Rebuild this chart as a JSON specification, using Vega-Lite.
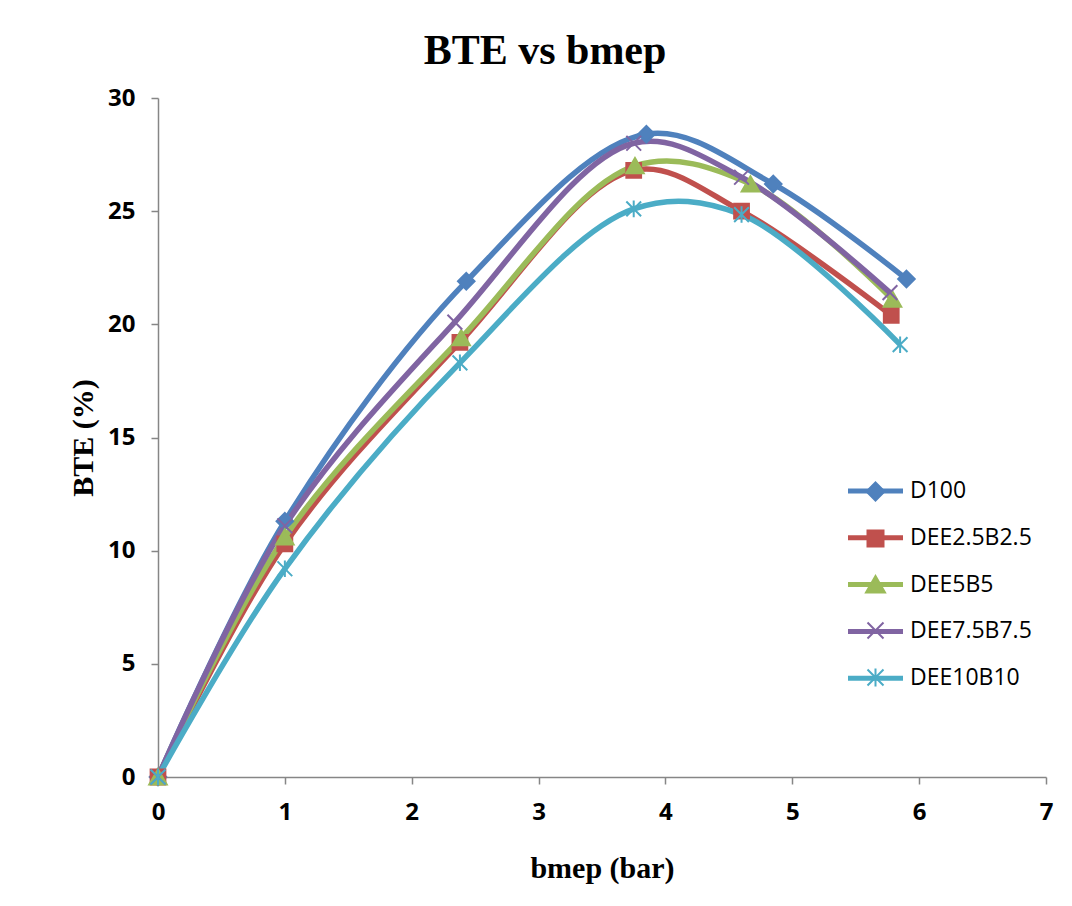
{
  "$schema": "https://vega.github.io/schema/vega-lite/v6.json",
  "autosize": "none",
  "width": 888,
  "height": 679,
  "padding": {"left": 158, "top": 98, "right": 26, "bottom": 129},
  "background": "white",
  "title": {
    "text": "BTE vs bmep",
    "font": "Liberation Serif",
    "fontSize": 42,
    "fontWeight": "bold",
    "color": "black",
    "anchor": "middle",
    "dx": -57,
    "offset": 13
  },
  "config": {
    "view": {"stroke": null},
    "axis": {
      "grid": false,
      "domainColor": "#868686",
      "domainWidth": 1.5,
      "tickColor": "#868686",
      "tickWidth": 1.5,
      "tickSize": 7,
      "labelFlush": false,
      "labelFont": "Open Sans",
      "labelFontWeight": "bold",
      "labelFontSize": 24,
      "labelColor": "black",
      "titleFont": "Liberation Serif",
      "titleFontWeight": "bold",
      "titleFontSize": 30,
      "titleColor": "black"
    }
  },
  "data": {
    "values": [
      {"series": "D100", "bmep": 0, "bte": 0},
      {"series": "D100", "bmep": 1.0, "bte": 11.3},
      {"series": "D100", "bmep": 2.43, "bte": 21.9},
      {"series": "D100", "bmep": 3.85, "bte": 28.4},
      {"series": "D100", "bmep": 4.85, "bte": 26.2},
      {"series": "D100", "bmep": 5.9, "bte": 22.0},
      {"series": "DEE2.5B2.5", "bmep": 0, "bte": 0},
      {"series": "DEE2.5B2.5", "bmep": 1.0, "bte": 10.3},
      {"series": "DEE2.5B2.5", "bmep": 2.38, "bte": 19.2},
      {"series": "DEE2.5B2.5", "bmep": 3.75, "bte": 26.8},
      {"series": "DEE2.5B2.5", "bmep": 4.6, "bte": 25.0},
      {"series": "DEE2.5B2.5", "bmep": 5.78, "bte": 20.4},
      {"series": "DEE5B5", "bmep": 0, "bte": 0},
      {"series": "DEE5B5", "bmep": 1.0, "bte": 10.6},
      {"series": "DEE5B5", "bmep": 2.39, "bte": 19.4},
      {"series": "DEE5B5", "bmep": 3.76, "bte": 27.0},
      {"series": "DEE5B5", "bmep": 4.67, "bte": 26.2},
      {"series": "DEE5B5", "bmep": 5.79, "bte": 21.1},
      {"series": "DEE7.5B7.5", "bmep": 0, "bte": 0},
      {"series": "DEE7.5B7.5", "bmep": 1.0, "bte": 11.1},
      {"series": "DEE7.5B7.5", "bmep": 2.34, "bte": 20.1},
      {"series": "DEE7.5B7.5", "bmep": 3.75, "bte": 28.0},
      {"series": "DEE7.5B7.5", "bmep": 4.6, "bte": 26.5},
      {"series": "DEE7.5B7.5", "bmep": 5.77, "bte": 21.4},
      {"series": "DEE10B10", "bmep": 0, "bte": 0},
      {"series": "DEE10B10", "bmep": 1.0, "bte": 9.2},
      {"series": "DEE10B10", "bmep": 2.38, "bte": 18.3},
      {"series": "DEE10B10", "bmep": 3.75, "bte": 25.1},
      {"series": "DEE10B10", "bmep": 4.6, "bte": 24.85},
      {"series": "DEE10B10", "bmep": 5.85, "bte": 19.1}
    ]
  },
  "encoding": {
    "x": {
      "field": "bmep",
      "type": "quantitative",
      "scale": {"domain": [0, 7], "nice": false, "zero": true},
      "axis": {
        "title": "bmep (bar)",
        "values": [0, 1, 2, 3, 4, 5, 6, 7],
        "format": "d",
        "labelPadding": 16,
        "titleBaseline": "middle",
        "titleY": 91
      }
    },
    "y": {
      "field": "bte",
      "type": "quantitative",
      "scale": {"domain": [0, 30], "nice": false},
      "axis": {
        "title": "BTE (%)",
        "values": [0, 5, 10, 15, 20, 25, 30],
        "format": "d",
        "labelPadding": 16,
        "titleBaseline": "middle",
        "titleX": -75,
        "titleY": 339.5,
        "titleAngle": -90
      }
    }
  },
  "layer": [
    {
      "mark": {"type": "line", "interpolate": "catmull-rom", "strokeWidth": 5.5},
      "encoding": {
        "color": {
          "field": "series",
          "type": "nominal",
          "scale": {
            "domain": ["D100", "DEE2.5B2.5", "DEE5B5", "DEE7.5B7.5", "DEE10B10"],
            "range": ["#4F81BD", "#C0504D", "#9BBB59", "#8064A2", "#4BACC6"]
          },
          "legend": {
            "title": null,
            "orient": "none",
            "legendX": 690,
            "legendY": 363,
            "padding": 0,
            "symbolType": "stroke",
            "symbolSize": 3025,
            "symbolStrokeWidth": 5,
            "symbolOffset": -2.5,
            "labelOffset": 4.5,
            "rowPadding": 4.8,
            "labelFont": "Open Sans",
            "labelFontSize": 23,
            "labelColor": "black",
            "labelLimit": 300,
            "zindex": 0
          }
        },
        "detail": {"field": "series"}
      }
    },
    {
      "mark": {"type": "point", "filled": true, "size": 340, "strokeWidth": 2, "opacity": 1},
      "encoding": {
        "fill": {
          "field": "series",
          "type": "nominal",
          "sort": null,
          "scale": {"range": ["#4F81BD", "#C0504D", "#9BBB59", "#8064A2", "#4BACC6"]},
          "legend": {
            "title": null,
            "orient": "none",
            "legendX": 690,
            "legendY": 382,
            "padding": 0,
            "symbolSize": 400,
            "symbolStrokeWidth": 2,
            "symbolOffset": 16,
            "rowPadding": 21,
            "labelFont": "Open Sans",
            "labelFontSize": 23,
            "labelExpr": "''",
            "labelLimit": 300,
            "zindex": 1
          }
        },
        "stroke": {
          "field": "series",
          "type": "nominal",
          "sort": null,
          "scale": {"range": ["#4F81BD", "#C0504D", "#9BBB59", "#8064A2", "#4BACC6"]},
          "legend": {
            "title": null,
            "orient": "none",
            "legendX": 690,
            "legendY": 382,
            "padding": 0,
            "symbolSize": 400,
            "symbolStrokeWidth": 2,
            "symbolOffset": 16,
            "rowPadding": 21,
            "labelFont": "Open Sans",
            "labelFontSize": 23,
            "labelExpr": "''",
            "labelLimit": 300,
            "zindex": 1
          }
        },
        "shape": {
          "field": "series",
          "type": "nominal",
          "sort": null,
          "scale": {
            "range": [
              "M0,-0.9L0.9,0L0,0.9L-0.9,0Z",
              "M-0.8,-0.8H0.8V0.8H-0.8Z",
              "M0,-0.85L0.95,0.8H-0.95Z",
              "M-0.8,-0.8L0.8,0.8M-0.8,0.8L0.8,-0.8",
              "M-0.8,-0.8L0.8,0.8M-0.8,0.8L0.8,-0.8M0,-0.9V0.9"
            ]
          },
          "legend": {
            "title": null,
            "orient": "none",
            "legendX": 690,
            "legendY": 382,
            "padding": 0,
            "symbolSize": 400,
            "symbolStrokeWidth": 2,
            "symbolOffset": 16,
            "rowPadding": 21,
            "labelFont": "Open Sans",
            "labelFontSize": 23,
            "labelExpr": "''",
            "labelLimit": 300,
            "zindex": 1
          }
        }
      }
    }
  ]
}
